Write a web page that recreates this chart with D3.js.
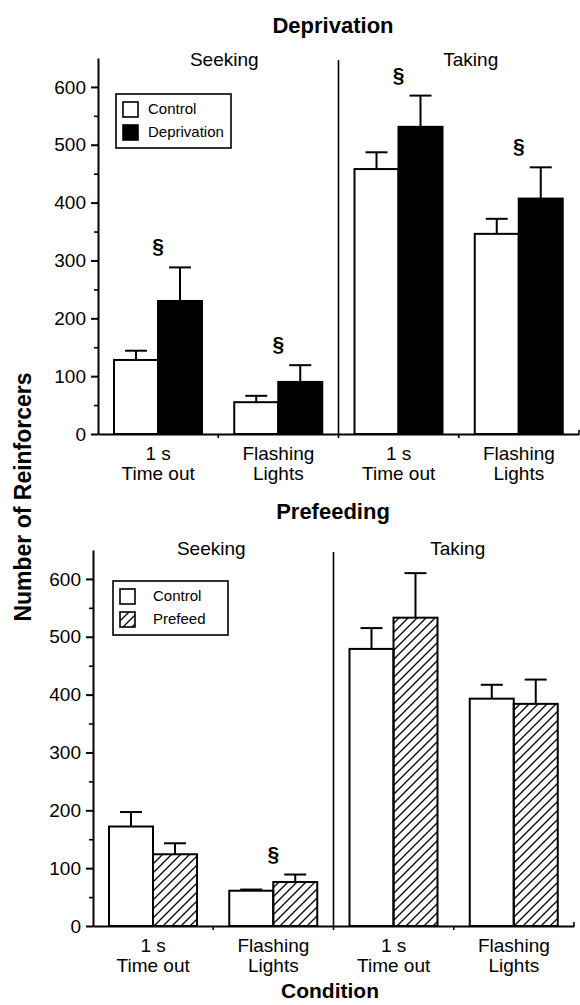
<!DOCTYPE html>
<html>
<head>
<meta charset="utf-8">
<script src="https://cdn.jsdelivr.net/npm/d3@7"></script>
<style>
  body { margin: 0; background: #fff; }
  svg text { font-family: "Liberation Sans", Arial, Helvetica, sans-serif; fill: #000; }
</style>
</head>
<body>
<div id="chart"></div>
<script>
// categories (two-line tick labels) and phase labels
var categories = ["seek1s", "seekFlash", "take1s", "takeFlash"];
var tickLines = [["1 s", "Time out"], ["Flashing", "Lights"], ["1 s", "Time out"], ["Flashing", "Lights"]];
var phases = ["Seeking", "Taking"];
var yTicks = [0, 100, 200, 300, 400, 500, 600];
var yMinorTicks = [50, 150, 250, 350, 450, 550];

// Deprivation panel
var deprivControl = [128, 55, 458, 346];
var deprivControlErr = [16, 11, 29, 26];
var deprivTreat = [230, 90, 531, 407];
var deprivTreatErr = [58, 29, 54, 54];
var deprivSig = [true, true, true, true];

// Prefeeding panel
var prefeedControl = [172, 61, 479, 393];
var prefeedControlErr = [25, 2, 36, 24];
var prefeedTreat = [124, 76, 533, 384];
var prefeedTreatErr = [19, 13, 77, 42];
var prefeedSig = [false, true, false, false];

var W = 580, H = 1005;

var svg = d3.select("#chart")
  .append("svg")
    .attr("width", W)
    .attr("height", H);

// hatch pattern for prefeed bars
var defs = svg.append("defs");
defs.append("pattern")
    .attr("id", "hatch")
    .attr("patternUnits", "userSpaceOnUse")
    .attr("width", 9)
    .attr("height", 9)
  .append("path")
    .attr("d", "M-2,2 l4,-4 M0,9 l9,-9 M7,11 l4,-4")
    .attr("stroke", "#000")
    .attr("stroke-width", 1.3);

function drawPanel(p) {
  var x = d3.scaleBand()
      .domain(categories)
      .range([p.left, p.left + 481]);

  var x1 = d3.scaleBand()
      .domain(["control", "treat"])
      .range([16, 104]);

  var y = d3.scaleLinear()
      .domain([0, 650])
      .range([p.bottom, p.bottom - 376]);

  var g = svg.append("g");

  // title
  g.append("text")
      .attr("x", 333)
      .attr("y", p.titleY)
      .attr("text-anchor", "middle")
      .style("font-size", "22px")
      .style("font-weight", "bold")
      .text(p.title);

  // phase labels
  g.selectAll(".phase")
    .data(phases)
    .enter()
    .append("text")
      .attr("class", "phase")
      .attr("x", function(d, i) { return x(categories[i * 2 + 1]) + (i == 0 ? 6 : 12) - (p.left == 98 ? 0 : 8); })
      .attr("y", y(650) + p.phaseDy)
      .attr("text-anchor", "middle")
      .style("font-size", "19px")
      .text(function(d) { return d; });

  // bars
  var rows = categories.map(function(c, i) {
    return [
      {cat: c, key: "control", v: p.control[i], e: p.controlErr[i]},
      {cat: c, key: "treat", v: p.treat[i], e: p.treatErr[i]}
    ];
  });
  var flat = [].concat.apply([], rows);

  // error bars (drawn first so bar outline sits over them)
  var eb = g.selectAll(".err")
    .data(flat)
    .enter()
    .append("g")
      .attr("class", "err")
      .attr("stroke", "#000")
      .attr("stroke-width", 2);
  eb.append("line")
      .attr("x1", function(d) { return x(d.cat) + x1(d.key) + x1.bandwidth() / 2; })
      .attr("x2", function(d) { return x(d.cat) + x1(d.key) + x1.bandwidth() / 2; })
      .attr("y1", function(d) { return y(d.v); })
      .attr("y2", function(d) { return y(d.v + d.e); });
  eb.append("line")
      .attr("x1", function(d) { return x(d.cat) + x1(d.key) + x1.bandwidth() / 2 - 11; })
      .attr("x2", function(d) { return x(d.cat) + x1(d.key) + x1.bandwidth() / 2 + 11; })
      .attr("y1", function(d) { return y(d.v + d.e); })
      .attr("y2", function(d) { return y(d.v + d.e); });

  g.selectAll(".bar")
    .data(flat)
    .enter()
    .append("rect")
      .attr("class", "bar")
      .attr("x", function(d) { return x(d.cat) + x1(d.key); })
      .attr("y", function(d) { return y(d.v); })
      .attr("width", x1.bandwidth())
      .attr("height", function(d) { return y(0) - y(d.v); })
      .attr("fill", function(d) { return d.key == "control" ? "#fff" : p.treatFill; })
      .attr("stroke", "#000")
      .attr("stroke-width", 2);

  // significance marks
  g.selectAll(".sig")
    .data(categories.filter(function(c, i) { return p.sig[i]; }))
    .enter()
    .append("text")
      .attr("class", "sig")
      .attr("x", function(d) { return x(d) + x.bandwidth() / 2; })
      .attr("y", function(d) {
        var i = categories.indexOf(d);
        return y(p.treat[i] + p.treatErr[i]) - 14;
      })
      .attr("text-anchor", "middle")
      .style("font-size", "21px")
      .style("font-weight", "bold")
      .text("\u00a7");

  // divider between seeking and taking
  g.append("line")
      .attr("x1", x(categories[2]))
      .attr("x2", x(categories[2]))
      .attr("y1", y(650) + 2)
      .attr("y2", y(0))
      .attr("stroke", "#000")
      .attr("stroke-width", 1.6);

  // y axis
  var yAxis = g.append("g")
      .attr("transform", "translate(" + p.left + ",0)")
      .call(d3.axisLeft(y).tickValues(yTicks).tickSize(7).tickSizeOuter(0).tickPadding(5));
  yAxis.select(".domain").attr("stroke-width", 2);
  yAxis.selectAll(".tick line").attr("stroke-width", 2);
  yAxis.selectAll(".tick text")
      .style("font-size", "19px")
      .style("font-family", "'Liberation Sans', Arial, sans-serif");

  var yMinor = g.append("g")
      .attr("transform", "translate(" + p.left + ",0)")
      .call(d3.axisLeft(y).tickValues(yMinorTicks).tickSize(4).tickFormat(""));
  yMinor.select(".domain").remove();
  yMinor.selectAll(".tick line").attr("stroke-width", 1.6);

  // x axis
  var xAxis = g.append("g")
      .attr("transform", "translate(0," + y(0) + ")")
      .call(d3.axisBottom(x).tickSize(0).tickSizeOuter(0).tickFormat(""));
  xAxis.select(".domain").attr("stroke-width", 2);

  var bounds = categories.slice(1).map(function(c) { return x(c); }).concat([x.range()[1]]);
  g.selectAll(".xtick")
    .data(bounds)
    .enter()
    .append("line")
      .attr("class", "xtick")
      .attr("x1", function(d) { return d; })
      .attr("x2", function(d) { return d; })
      .attr("y1", y(0))
      .attr("y2", function(d, i) { return i == bounds.length - 1 ? y(0) - 4 : y(0) + 4; })
      .attr("stroke", "#000")
      .attr("stroke-width", 1.6);

  // two-line tick labels
  var lab = g.selectAll(".xlab")
    .data(categories)
    .enter()
    .append("text")
      .attr("class", "xlab")
      .attr("text-anchor", "middle")
      .style("font-size", "19px");
  lab.append("tspan")
      .attr("x", function(d) { return x(d) + x.bandwidth() / 2; })
      .attr("y", y(0) + 26)
      .text(function(d, i) { return tickLines[i][0]; });
  lab.append("tspan")
      .attr("x", function(d) { return x(d) + x.bandwidth() / 2; })
      .attr("y", y(0) + 46)
      .text(function(d, i) { return tickLines[i][1]; });

  // legend
  var lg = g.append("g")
      .attr("transform", "translate(" + p.legX + "," + p.legY + ")");
  lg.append("rect")
      .attr("width", 115)
      .attr("height", 54)
      .attr("fill", "#fff")
      .attr("stroke", "#000")
      .attr("stroke-width", 1.6);
  var items = [{label: "Control", fill: "#fff"}, {label: p.treatName, fill: p.treatFill}];
  var li = lg.selectAll(".li")
    .data(items)
    .enter()
    .append("g")
      .attr("class", "li")
      .attr("transform", function(d, i) { return "translate(7," + (8 + i * 23) + ")"; });
  li.append("rect")
      .attr("width", 15)
      .attr("height", 15)
      .attr("fill", function(d) { return d.fill; })
      .attr("stroke", "#000")
      .attr("stroke-width", 1.6);
  li.append("text")
      .attr("x", p.legTextX)
      .attr("y", 12)
      .style("font-size", "15px")
      .text(function(d) { return d.label; });
}

drawPanel({
  title: "Deprivation", titleY: 33, left: 98, bottom: 434, phaseDy: 8,
  control: deprivControl, controlErr: deprivControlErr,
  treat: deprivTreat, treatErr: deprivTreatErr, sig: deprivSig,
  treatName: "Deprivation", treatFill: "#000",
  legX: 116, legY: 94, legTextX: 25
});

drawPanel({
  title: "Prefeeding", titleY: 519, left: 93, bottom: 926, phaseDy: 5,
  control: prefeedControl, controlErr: prefeedControlErr,
  treat: prefeedTreat, treatErr: prefeedTreatErr, sig: prefeedSig,
  treatName: "Prefeed", treatFill: "url(#hatch)",
  legX: 113, legY: 581, legTextX: 33
});

// shared axis titles
svg.append("text")
    .attr("transform", "translate(31,497) rotate(-90)")
    .attr("text-anchor", "middle")
    .style("font-size", "23px")
    .style("font-weight", "bold")
    .text("Number of Reinforcers");

svg.append("text")
    .attr("x", 330)
    .attr("y", 998)
    .attr("text-anchor", "middle")
    .style("font-size", "21px")
    .style("font-weight", "bold")
    .text("Condition");
</script>
</body>
</html>
